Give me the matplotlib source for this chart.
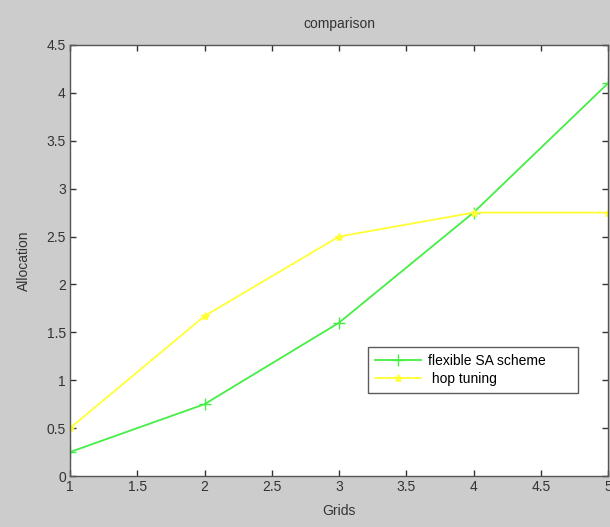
import matplotlib
matplotlib.use("Agg")
import matplotlib.pyplot as plt

grids = [1, 2, 3, 4, 5]
flexible_sa = [0.25, 0.75, 1.6, 2.75, 4.1]
hop_tuning = [0.5, 1.67, 2.5, 2.75, 2.75]
xticks = [1, 1.5, 2, 2.5, 3, 3.5, 4, 4.5, 5]
yticks = [0, 0.5, 1, 1.5, 2, 2.5, 3, 3.5, 4, 4.5]

plt.rcParams['font.family'] = ['Liberation Sans', 'DejaVu Sans']

fig = plt.figure(figsize=(6.10, 5.27), dpi=100, facecolor='#cccccc')
ax = fig.add_axes([70/610, 51/527, 538/610, 431/527])
ax.set_facecolor('white')

ax.plot(grids, flexible_sa, color='#44ee44', marker='+', markersize=8, linewidth=1.3,
        label='flexible SA scheme')
ax.plot(grids, hop_tuning, color='#ffff33', marker='*', markersize=6, linewidth=1.3,
        label=' hop tuning')

ax.set_xlim(1, 5)
ax.set_ylim(0, 4.5)
ax.set_xticks(xticks)
ax.set_xticklabels([f'{v:g}' for v in xticks])
ax.set_yticks(yticks)
ax.set_yticklabels([f'{v:g}' for v in yticks])
ax.tick_params(direction='in', top=True, right=True, length=4, width=1,
               labelsize=10, colors='#333333', pad=3)
for s in ax.spines.values():
    s.set_color('#555555')
    s.set_linewidth(1)

ax.set_title('comparison', fontsize=10, color='#333333', pad=12)
ax.set_xlabel('Grids', fontsize=10, color='#333333', labelpad=7)
ax.set_ylabel('Allocation', fontsize=10, color='#333333', labelpad=11)

leg = ax.legend(loc='lower left', bbox_to_anchor=((368-70)/538, (527-393-51)/431, 210/538, 51/431),
                mode='expand', fontsize=10, frameon=True, fancybox=False, borderaxespad=0,
                handlelength=3.3, handletextpad=0.5, labelspacing=0.3, borderpad=0.5)
leg.get_frame().set_edgecolor('#333333')
leg.get_frame().set_linewidth(1)

fig.savefig('out.png', dpi=100, facecolor=fig.get_facecolor())
